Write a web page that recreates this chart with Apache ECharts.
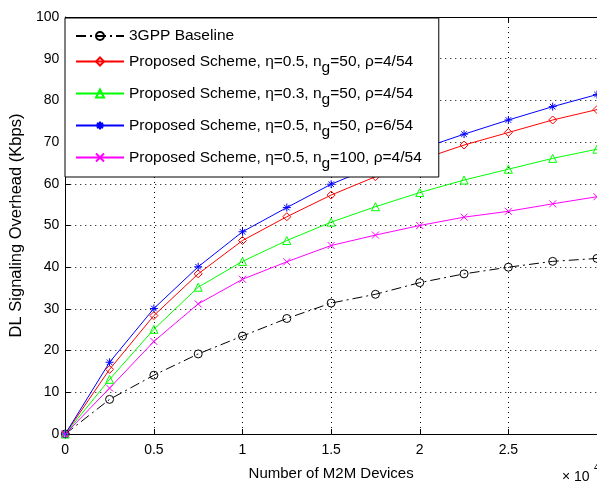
<!DOCTYPE html>
<html>
<head>
<meta charset="utf-8">
<script src="https://cdn.jsdelivr.net/npm/echarts@6/dist/echarts.min.js"></script>
<style>html,body{margin:0;padding:0;background:#fff;}#c{width:597px;height:492px;}</style>
</head>
<body>
<div id="c"></div>
<script>
var xs = [0, 0.25, 0.5, 0.75, 1, 1.25, 1.5, 1.75, 2, 2.25, 2.5, 2.75, 3];
var baseline = [0, 8.3, 14.1, 19.2, 23.5, 27.7, 31.4, 33.5, 36.3, 38.4, 40.0, 41.4, 42.1];
var schemeA = [0, 15.5, 28.4, 38.4, 46.4, 52.1, 57.3, 61.7, 65.7, 69.3, 72.3, 75.3, 77.8];
var schemeB = [0, 13.1, 25.1, 35.2, 41.4, 46.4, 50.8, 54.5, 57.9, 60.9, 63.5, 66.1, 68.3];
var schemeC = [0, 17.2, 30.1, 40.1, 48.5, 54.3, 59.9, 64.3, 68.3, 71.9, 75.3, 78.5, 81.4];
var schemeD = [0, 11.0, 22.2, 31.2, 37.1, 41.3, 45.2, 47.7, 50.0, 52.0, 53.4, 55.2, 56.9];
var names = [
  '3GPP Baseline',
  'Proposed Scheme, \u03b7=0.5, n_g=50, \u03c1=4/54',
  'Proposed Scheme, \u03b7=0.3, n_g=50, \u03c1=4/54',
  'Proposed Scheme, \u03b7=0.5, n_g=50, \u03c1=6/54',
  'Proposed Scheme, \u03b7=0.5, n_g=100, \u03c1=4/54'
];
var xTicks = ['0', '0.5', '1', '1.5', '2', '2.5'];

function pairs(ys) { return xs.map(function (x, i) { return [x, ys[i]]; }); }

var FONT = 'Liberation Sans';
var asterisk = 'path://M0,5L10,5M5,0L5,10M1.5,1.5L8.5,8.5M1.5,8.5L8.5,1.5';
var cross = 'path://M0,0L10,10M0,10L10,0';

function mk(name, ys, color, symbol, size, dash) {
  return {
    name: name, type: 'line', data: pairs(ys), symbol: symbol, symbolSize: size,
    showAllSymbol: true, clip: true, animation: false,
    lineStyle: { color: color, width: 1, type: dash || 'solid' },
    itemStyle: { color: 'rgba(255,255,255,0)', borderColor: color, borderWidth: 1 }
  };
}

function legendText(name) {
  if (name.indexOf('n_g') < 0) return '{t|' + name + '}';
  var parts = name.split('n_g');
  return '{m|' + parts[0] + 'n}{s|g}{m|' + parts[1] + '}';
}

var FS = 15.5;
var chart = echarts.init(document.getElementById('c'));
chart.setOption({
  animation: false,
  backgroundColor: '#fff',
  textStyle: { fontFamily: FONT },
  grid: { left: 64, top: 17, width: 534, bottom: 58, containLabel: false },
  legend: {
    orient: 'vertical', left: 65, top: 18,
    padding: [10, 17, 5, 10], itemGap: 9.5, itemWidth: 48, itemHeight: 10,
    backgroundColor: '#fff', borderColor: '#000', borderWidth: 1,
    data: names,
    formatter: legendText,
    textStyle: {
      fontFamily: FONT, fontSize: FS, color: '#000',
      rich: {
        t: { fontFamily: FONT, fontSize: FS, lineHeight: 32, color: '#000' },
        m: { fontFamily: FONT, fontSize: FS, lineHeight: 29, color: '#000', verticalAlign: 'middle' },
        s: { fontFamily: FONT, fontSize: FS, lineHeight: 15, color: '#000', verticalAlign: 'bottom' }
      }
    }
  },
  xAxis: [{
    type: 'value', min: 0, max: 3, interval: 0.5,
    name: 'Number of M2M Devices', nameLocation: 'middle', nameGap: 32,
    nameTextStyle: { fontFamily: FONT, fontSize: 15, color: '#000' },
    axisLine: { lineStyle: { color: '#000', width: 1 } },
    axisTick: { inside: true, length: 5, lineStyle: { color: '#000' } },
    axisLabel: { showMaxLabel: false, margin: 9, fontFamily: FONT, fontSize: 14, color: '#000',
      formatter: function (v) { var i = Math.round(v / 0.5); return xTicks[i] !== undefined ? xTicks[i] : ''; } },
    splitLine: { show: true, lineStyle: { color: '#000', type: [1, 4], width: 1 } }
  }, {
    type: 'value', min: 0, max: 3, interval: 0.5, position: 'top',
    axisLine: { show: true, lineStyle: { color: '#000', width: 1 } },
    axisTick: { show: true, inside: true, length: 5, lineStyle: { color: '#000' } },
    axisLabel: { show: false }, splitLine: { show: false }
  }],
  yAxis: [{
    type: 'value', min: 0, max: 100, interval: 10,
    name: 'DL Signaling Overhead (Kbps)', nameLocation: 'middle', nameGap: 38,
    nameTextStyle: { fontFamily: FONT, fontSize: 16.5, color: '#000' },
    axisLine: { show: true, lineStyle: { color: '#000', width: 1 } },
    axisTick: { show: true, inside: true, length: 5, lineStyle: { color: '#000' } },
    axisLabel: { margin: 6, fontFamily: FONT, fontSize: 14, color: '#000' },
    splitLine: { show: true, lineStyle: { color: '#000', type: [1, 4], width: 1 } }
  }],
  graphic: [{
    type: 'text', left: 562, top: 470,
    style: { text: '\u00d7 10', fontFamily: FONT, fontSize: 14, fill: '#000' }
  }, {
    type: 'text', left: 594, top: 463,
    style: { text: '4', fontFamily: FONT, fontSize: 10, fill: '#000' }
  }],
  series: [
    mk(names[0], baseline, '#000000', 'circle', 8, [10, 4, 2, 4]),
    mk(names[1], schemeA, '#ff0000', 'diamond', 8),
    mk(names[2], schemeB, '#00ff00', 'triangle', 8),
    mk(names[3], schemeC, '#0000ff', asterisk, 8),
    mk(names[4], schemeD, '#ff00ff', cross, 7)
  ]
});
</script>
</body>
</html>
